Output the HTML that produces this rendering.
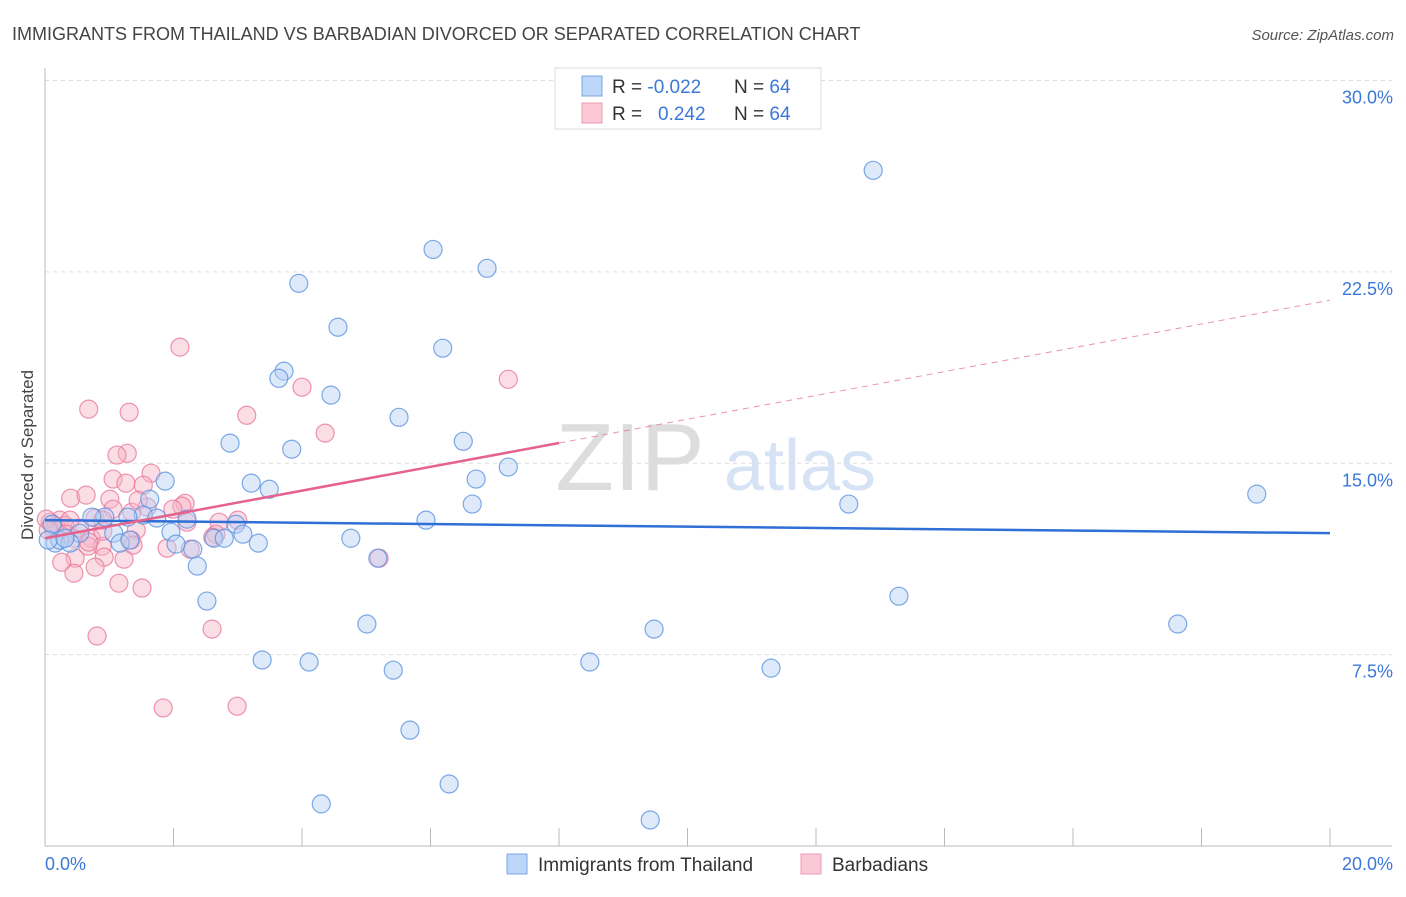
<!DOCTYPE html>
<html><head><meta charset="utf-8"><style>
body{margin:0;background:#fff;font-family:"Liberation Sans",sans-serif}
svg text{font-family:"Liberation Sans",sans-serif}
</style></head><body>
<svg id="chart" width="1406" height="892" viewBox="0 0 1406 892" xmlns="http://www.w3.org/2000/svg">
<text x="12" y="40" font-size="18" fill="#444">IMMIGRANTS FROM THAILAND VS BARBADIAN DIVORCED OR SEPARATED CORRELATION CHART</text>
<text x="1394" y="40" font-size="15" fill="#555" text-anchor="end" font-style="italic">Source: ZipAtlas.com</text>
<g>
<text x="630" y="490" font-size="96" fill="#ddd" text-anchor="middle" font-family="Liberation Serif">ZIP</text>
<text x="800" y="490" font-size="72" fill="#d6e3f5" text-anchor="middle">atlas</text>
</g>
<g id="grid"></g>
<g id="axes"></g>
<g id="marks"></g>
<text transform="translate(33,455) rotate(-90)" font-size="17" fill="#444" text-anchor="middle">Divorced or Separated</text>
<g>
<rect x="555" y="68" width="266" height="61" fill="#fff" stroke="#ddd"/>
<rect x="582" y="76" width="20" height="20" fill="#bcd6f7" stroke="#7aa7e6"/>
<rect x="582" y="103" width="20" height="20" fill="#fbc8d6" stroke="#ee9ab2"/>
<text x="612" y="93" font-size="19" fill="#333">R = <tspan fill="#3b78d8">-0.022</tspan></text>
<text x="734" y="93" font-size="19" fill="#333">N = <tspan fill="#3b78d8">64</tspan></text>
<text x="612" y="120" font-size="19" fill="#333">R = <tspan fill="#3b78d8" x="658">0.242</tspan></text>
<text x="734" y="120" font-size="19" fill="#333">N = <tspan fill="#3b78d8">64</tspan></text>
</g>
<g>
<rect x="507" y="854" width="20" height="20" fill="#bcd6f7" stroke="#7aa7e6"/>
<text x="538" y="871" font-size="19" fill="#333">Immigrants from Thailand</text>
<rect x="801" y="854" width="20" height="20" fill="#fbc8d6" stroke="#ee9ab2"/>
<text x="832" y="871" font-size="19" fill="#333">Barbadians</text>
</g>
</svg>
<script>
const yTicks=[7.5,15,22.5,30];
const yTickLabels=["7.5%","15.0%","22.5%","30.0%"];
const xTickLabels=["0.0%","20.0%"];
const blueX=[12.89,6.04,6.88,3.95,4.56,6.19,3.72,3.64,4.45,5.51,2.88,6.51,3.84,7.21,1.87,3.21,6.71,3.49,1.63,12.51,6.65,18.86,1.53,1.29,0.93,0.73,1.74,2.21,5.93,2.97,0.11,0.54,1.07,1.96,2.63,2.79,3.08,4.76,0.16,0.23,0.39,1.17,2.04,3.32,2.30,5.18,2.37,2.52,13.29,5.01,9.48,17.63,3.38,4.11,8.48,5.42,11.30,5.68,6.29,4.30,9.42,0.05,0.31,1.32];
const blueY=[26.48,23.38,22.64,22.05,20.33,19.51,18.61,18.33,17.67,16.80,15.79,15.86,15.55,14.85,14.30,14.22,14.38,13.98,13.59,13.40,13.40,13.79,12.97,12.89,12.89,12.89,12.85,12.81,12.77,12.61,12.61,12.26,12.26,12.30,12.06,12.06,12.22,12.06,11.87,11.99,11.87,11.87,11.83,11.87,11.63,11.28,10.97,9.60,9.79,8.70,8.50,8.70,7.29,7.21,7.21,6.89,6.97,4.54,2.43,1.65,1.02,11.99,12.06,11.99];
const pinkX=[2.10,7.21,4.00,0.68,1.31,3.14,4.36,1.28,1.12,1.65,1.06,1.26,1.53,0.40,0.64,1.01,2.18,2.13,1.59,1.99,1.06,0.78,0.90,1.35,0.23,0.08,0.17,0.31,0.54,2.21,3.00,2.71,1.42,2.66,0.44,0.72,1.34,0.89,0.67,1.90,2.26,1.37,0.92,0.47,0.26,1.23,0.78,0.45,1.15,1.51,2.60,0.81,1.84,2.99,5.20,0.14,0.02,0.39,0.90,0.68,1.45,0.33,0.05,2.61];
const pinkY=[19.55,18.29,17.98,17.12,17.00,16.88,16.18,15.39,15.32,14.61,14.38,14.22,14.14,13.63,13.75,13.59,13.43,13.32,13.28,13.20,13.20,12.85,12.77,13.08,12.77,12.69,12.53,12.57,12.46,12.69,12.77,12.69,12.38,12.22,12.06,12.06,11.99,11.75,11.75,11.67,11.63,11.79,11.32,11.28,11.12,11.24,10.93,10.69,10.30,10.11,8.50,8.23,5.41,5.48,11.28,12.42,12.81,12.77,12.34,11.91,13.55,12.22,12.38,12.10];
const blueTrend=[12.77,12.26];
const pinkTrend=[12.06,21.39];
const pinkSolidEnd=8.0;
const NS="http://www.w3.org/2000/svg";
const X0=45,X1=1330,Y0=846,YTOP=80.5;
function sx(v){return X0+(v/20)*(X1-X0);}
function sy(v){return Y0-(v/30)*(Y0-YTOP);}
function mk(tag,attrs,parent){const e=document.createElementNS(NS,tag);for(const k in attrs)e.setAttribute(k,attrs[k]);parent.appendChild(e);return e;}
const grid=document.getElementById('grid'),axes=document.getElementById('axes'),marks=document.getElementById('marks');
yTicks.forEach((t,i)=>{
 const l=mk('line',{x1:X0,x2:1392,y1:sy(t),y2:sy(t),stroke:'#ddd','stroke-dasharray':'4,4'},grid);
 
 
 const tx=mk('text',{x:1393,y:sy(t)+23,'font-size':18,fill:'#3b78d8','text-anchor':'end'},axes);
 tx.textContent=yTickLabels[i];
 
 
});
const ax=mk('line',{x1:X0,x2:1392,y1:Y0,y2:Y0,stroke:'#bbb'},axes);


const ay=mk('line',{x1:X0,x2:X0,y1:68,y2:Y0,stroke:'#bbb'},axes);


for(let i=0;i<=10;i++){
 const t=mk('line',{x1:sx(i*2),x2:sx(i*2),y1:828,y2:Y0,stroke:'#bbb'},axes);
 
 
}
const xl0=mk('text',{x:45,y:870,'font-size':18,fill:'#3b78d8'},axes);xl0.textContent=xTickLabels[0];


const xl1=mk('text',{x:1393,y:870,'font-size':18,fill:'#3b78d8','text-anchor':'end'},axes);xl1.textContent=xTickLabels[1];


function pts(xs,ys,fill,stroke,name){xs.forEach((x,i)=>{
 const c=mk('circle',{cx:sx(x),cy:sy(ys[i]),r:9,fill:fill,'fill-opacity':0.45,stroke:stroke,'stroke-opacity':0.8,'stroke-width':1.2},marks);
 
 
});}
pts(pinkX,pinkY,'#f7b4c8','#e8799b','barbadian-point');
pts(blueX,blueY,'#b6d1f5','#5b93e0','thailand-point');
const bt=mk('line',{x1:sx(0),y1:sy(blueTrend[0]),x2:sx(20),y2:sy(blueTrend[1]),stroke:'#2f6fd6','stroke-width':2.5},marks);


const pm=pinkTrend[0]+(pinkTrend[1]-pinkTrend[0])*pinkSolidEnd/20;
const ps=mk('line',{x1:sx(0),y1:sy(pinkTrend[0]),x2:sx(pinkSolidEnd),y2:sy(pm),stroke:'#e5628c','stroke-width':2.5},marks);


const pd=mk('line',{x1:sx(pinkSolidEnd),y1:sy(pm),x2:sx(20),y2:sy(pinkTrend[1]),stroke:'#e5628c','stroke-width':1,'stroke-dasharray':'6,5','stroke-opacity':0.7},marks);


</script>
</body></html>
